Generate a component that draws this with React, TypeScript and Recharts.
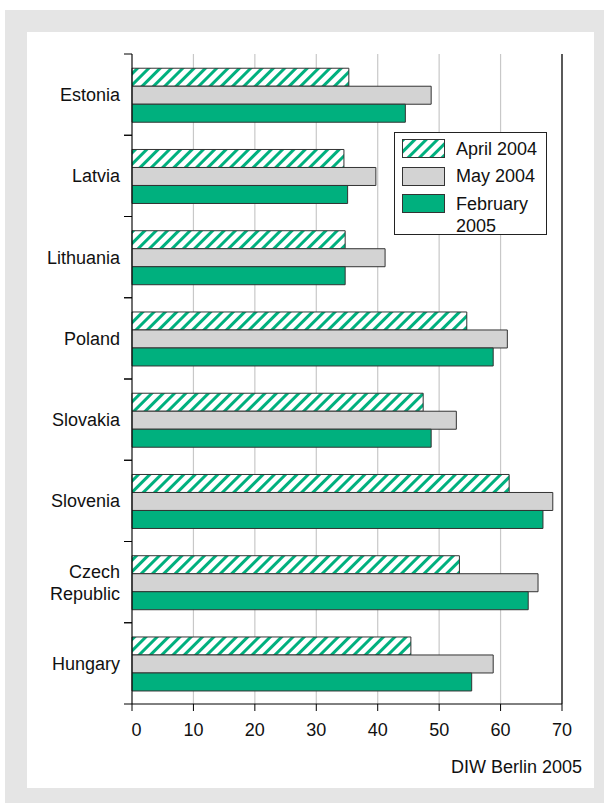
import React from "react";
import {
  BarChart,
  Bar,
  XAxis,
  YAxis,
  CartesianGrid,
  ReferenceLine,
} from "recharts";

const categories = [
  "Estonia",
  "Latvia",
  "Lithuania",
  "Poland",
  "Slovakia",
  "Slovenia",
  "Czech Republic",
  "Hungary",
];
const april2004 = [35.3, 34.5, 34.7, 54.5, 47.4, 61.4, 53.3, 45.4];
const may2004 = [48.7, 39.7, 41.2, 61.1, 52.8, 68.5, 66.1, 58.8];
const feb2005 = [44.5, 35.1, 34.7, 58.8, 48.7, 66.9, 64.5, 55.3];
const xTicks = [0, 10, 20, 30, 40, 50, 60, 70];
const seriesNames = ["April 2004", "May 2004", "February 2005"];

const GREEN = "#00b07e";
const GREY = "#d3d3d3";
const STROKE = "#333333";
const FONT = "'Liberation Sans', Arial, Helvetica, sans-serif";
const FS = 18;

const data = categories.map((c, i) => ({
  country: c,
  april: april2004[i],
  may: may2004[i],
  feb: feb2005[i],
}));

const CategoryTick = (props: any) => {
  const { x, y, payload } = props;
  const off = payload && typeof payload.offset === "number" ? payload.offset : 0;
  const lines = String(payload.value).split(" ");
  const lh = 22;
  const startDy = -((lines.length - 1) * lh) / 2;
  return (
    <g>
      <text
        x={x}
        y={y}
        textAnchor="end"
        fill="#111"
        fontSize={FS}
        fontFamily={FONT}
      >
        {lines.map((l, i) => (
          <tspan key={i} x={x} dy={i === 0 ? startDy + 6.4 : lh}>
            {l}
          </tspan>
        ))}
      </text>
      <line x1={x + 4} x2={x + 12} y1={y - off} y2={y - off} stroke="#000" />
      <line x1={x + 4} x2={x + 12} y1={y + off} y2={y + off} stroke="#000" />
    </g>
  );
};

const ValueTick = (props: any) => {
  const { x, y, payload } = props;
  const isZero = payload.value === 0;
  return (
    <text
      x={isZero ? x - 0.5 : x}
      y={y}
      dy="0.71em"
      textAnchor={isZero ? "start" : "middle"}
      fill="#111"
      fontSize={FS}
      fontFamily={FONT}
    >
      {payload.value}
    </text>
  );
};

const Swatch = ({ kind }: { kind: number }) => (
  <svg
    width={43}
    height={19}
    style={{ display: "block", flex: "0 0 auto", marginTop: 1.5 }}
  >
    <defs>
      <pattern
        id="legendHatch"
        width={8}
        height={8}
        patternUnits="userSpaceOnUse"
        patternTransform="rotate(45)"
      >
        <rect width={8} height={8} fill="#fff" />
        <rect width={3} height={8} fill={GREEN} />
      </pattern>
    </defs>
    <rect
      x={0.5}
      y={0.5}
      width={42}
      height={18}
      fill={kind === 0 ? "url(#legendHatch)" : kind === 1 ? GREY : GREEN}
      stroke={STROKE}
    />
  </svg>
);

const LegendBox = () => (
  <div
    style={{
      position: "absolute",
      left: 394,
      top: 132,
      width: 153,
      height: 103,
      boxSizing: "border-box",
      border: "1px solid #222",
      background: "#fff",
      padding: "4.5px 0 0 7px",
      fontFamily: FONT,
      fontSize: FS,
      color: "#111",
      textAlign: "left",
    }}
  >
    {seriesNames.map((n, i) => (
      <div
        key={n}
        style={{
          display: "flex",
          alignItems: "flex-start",
          marginBottom: 5.5,
        }}
      >
        <Swatch kind={i} />
        <div style={{ marginLeft: 11, lineHeight: "22px", width: 95 }}>
          {i === 2 ? (
            <>
              February
              <br />
              2005
            </>
          ) : (
            n
          )}
        </div>
      </div>
    ))}
  </div>
);

export default function App() {
  return (
    <div
      style={{
        position: "absolute",
        left: 0,
        top: 0,
        width: 604,
        height: 803,
        fontFamily: FONT,
        background: "#fff",
      }}
    >
      <div
        style={{
          position: "absolute",
          left: 5,
          top: 10,
          right: 0,
          bottom: 0,
          background: "#e5e5e5",
        }}
      />
      <div
        style={{
          position: "absolute",
          left: 27,
          top: 32,
          width: 567,
          height: 756,
          background: "#fff",
        }}
      />
      <div style={{ position: "absolute", left: 0, top: 0 }}>
        <BarChart
          width={604}
          height={803}
          data={data}
          layout="vertical"
          margin={{ top: 54, right: 42, bottom: 69, left: 0 }}
          barCategoryGap="17.5%"
          barGap={0}
        >
          <defs>
            <pattern
              id="barHatch"
              width={8}
              height={8}
              patternUnits="userSpaceOnUse"
              patternTransform="rotate(45)"
            >
              <rect width={8} height={8} fill="#fff" />
              <rect width={3} height={8} fill={GREEN} />
            </pattern>
          </defs>
          <CartesianGrid horizontal={false} stroke="#c8c8c8" strokeWidth={1.2} />
          <XAxis
            type="number"
            domain={[0, 70]}
            ticks={xTicks}
            interval={0}
            tickSize={7}
            tickMargin={12}
            axisLine={{ stroke: "#000" }}
            tickLine={{ stroke: "#000" }}
            tick={<ValueTick />}
            height={30}
          />
          <XAxis
            xAxisId="top"
            orientation="top"
            type="number"
            domain={[0, 70]}
            ticks={xTicks}
            tick={false}
            tickLine={false}
            axisLine={{ stroke: "#888", strokeWidth: 1.5 }}
            height={0}
          />
          <YAxis
            type="category"
            dataKey="country"
            width={132}
            tickSize={0}
            tickMargin={12}
            tickLine={false}
            axisLine={{ stroke: "#000" }}
            tick={<CategoryTick />}
            interval={0}
          />
          <Bar
            dataKey="april"
            name={seriesNames[0]}
            fill="url(#barHatch)"
            stroke={STROKE}
            strokeWidth={1}
            isAnimationActive={false}
          />
          <Bar
            dataKey="may"
            name={seriesNames[1]}
            fill={GREY}
            stroke={STROKE}
            strokeWidth={1}
            isAnimationActive={false}
          />
          <Bar
            dataKey="feb"
            name={seriesNames[2]}
            fill={GREEN}
            stroke={STROKE}
            strokeWidth={1}
            isAnimationActive={false}
          />
          <ReferenceLine x={70} stroke="#000" strokeWidth={1.2} />
        </BarChart>
      </div>
      <LegendBox />
      <div
        style={{
          position: "absolute",
          right: 22,
          top: 756,
          fontSize: FS,
          lineHeight: "22px",
          color: "#111",
          fontFamily: FONT,
        }}
      >
        DIW Berlin 2005
      </div>
    </div>
  );
}
